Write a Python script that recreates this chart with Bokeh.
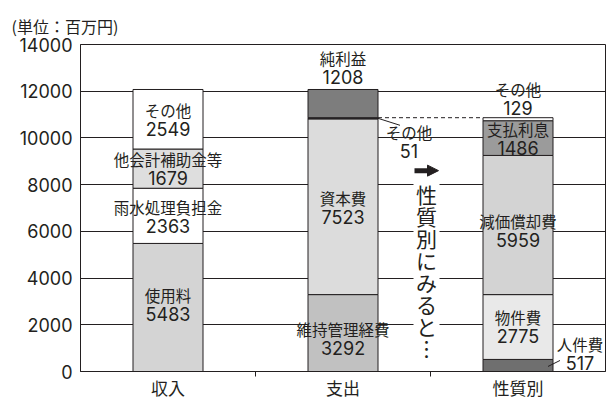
from bokeh.plotting import figure
from bokeh.models import ColumnDataSource, FixedTicker, Range1d, Arrow, NormalHead
from bokeh.core.properties import value
from bokeh.embed import file_html
from bokeh.resources import INLINE

# ---------------- data ----------------
categories = ["収入", "支出", "性質別"]
income_names = ["使用料", "雨水処理負担金", "他会計補助金等", "その他"]
income_values = [5483, 2363, 1679, 2549]
expense_names = ["維持管理経費", "資本費", "その他", "純利益"]
expense_values = [3292, 7523, 51, 1208]
nature_names = ["人件費", "物件費", "減価償却費", "支払利息", "その他"]
nature_values = [517, 2775, 5959, 1486, 129]
y_ticks = [0, 2000, 4000, 6000, 8000, 10000, 12000, 14000]
unit_label = "(単位：百万円)"
note_chars = ["性", "質", "別", "に", "み", "る", "と", "︙"]

# ---------------- styles / layout ----------------
income_colors = ["#d4d4d4", "#ffffff", "#dedede", "#ffffff"]
expense_colors = ["#c1c1c1", "#dcdcdc", "#333333", "#7d7d7d"]
nature_colors = ["#6f6f6f", "#e9e9e9", "#d3d3d3", "#9b9b9b", "#ffffff"]
income_off = [(0, -3), (0, 1), (0, 0), (0, 0)]
expense_off = [(0, 5), (0, 1), (66, 23), (0, -36)]
nature_off = [(62, -12), (0, -1), (0, 5), (0, 0), (0, -21)]

W, H = 608, 405
ML, MR, MT, MB = 80, 3, 44, 34
fw = W - ML - MR
fh = H - MT - MB
XMAX, YMAX = 3, 14000
px_x = XMAX / fw
px_y = YMAX / fh
BAR_W = 0.4
INK = "#231f20"
JP = "Noto Sans CJK JP"
NUM = "Inter"

groups = [
    (income_names, income_values, income_colors, income_off),
    (expense_names, expense_values, expense_colors, expense_off),
    (nature_names, nature_values, nature_colors, nature_off),
]

bars = dict(x=[], bottom=[], top=[], color=[])
labs = dict(x=[], y=[], dx=[], dy_name=[], dy_num=[], name=[], num=[])
for i, (names, vals, cols, offs) in enumerate(groups):
    xc = i + 0.5
    base = 0
    for n, v, c, (dx, dy) in zip(names, vals, cols, offs):
        bars["x"].append(xc)
        bars["bottom"].append(base)
        bars["top"].append(base + v)
        bars["color"].append(c)
        labs["x"].append(xc)
        labs["y"].append(base + v / 2)
        labs["dx"].append(dx)
        labs["dy_name"].append(dy - 9.5)
        labs["dy_num"].append(dy + 9.5)
        labs["name"].append(n)
        labs["num"].append(str(v))
        base += v

p = figure(width=W, height=H, output_backend="svg", toolbar_location=None,
           x_range=Range1d(0, XMAX), y_range=Range1d(0, YMAX),
           min_border_left=ML, min_border_right=MR, min_border_top=MT, min_border_bottom=MB)
p.background_fill_color = "white"
p.border_fill_color = "white"
p.outline_line_color = INK
p.outline_line_width = 1

p.title.text = unit_label
p.title.text_font = JP
p.title.text_font_size = "16px"
p.title.text_font_style = "normal"
p.title.text_color = INK
p.title.align = "left"
p.title.offset = -69
p.title.standoff = 14

p.xgrid.visible = False
p.ygrid.grid_line_color = INK
p.ygrid.grid_line_width = 1
p.ygrid.ticker = FixedTicker(ticks=y_ticks)

p.yaxis.ticker = FixedTicker(ticks=y_ticks)
p.yaxis.major_tick_in = 0
p.yaxis.major_tick_out = 0
p.yaxis.minor_tick_line_color = None
p.yaxis.major_label_standoff = 8
p.yaxis.major_label_text_font = NUM
p.yaxis.major_label_text_font_size = "18px"
p.yaxis.major_label_text_color = INK
p.yaxis.axis_line_color = INK

centers = [i + 0.5 for i in range(len(categories))]
p.xaxis.ticker = FixedTicker(ticks=centers, minor_ticks=[1, 2])
p.xaxis.major_label_overrides = {c: cat for c, cat in zip(centers, categories)}
p.xaxis.major_tick_in = 0
p.xaxis.major_tick_out = 0
p.xaxis.minor_tick_in = 0
p.xaxis.minor_tick_out = 5
p.xaxis.minor_tick_line_color = INK
p.xaxis.axis_line_color = INK
p.xaxis.major_label_standoff = -2
p.xaxis.major_label_text_font = JP
p.xaxis.major_label_text_font_size = "17px"
p.xaxis.major_label_text_color = INK

# white halo strip behind the vertical note
note_x = 2.0 - 4 * px_x
note_top = 7620
p.quad(left=[note_x - 13 * px_x], right=[note_x + 13 * px_x],
       top=[note_top + 12 * px_y], bottom=[note_top - 162 * px_y],
       fill_color="white", line_color=None)

src = ColumnDataSource(bars)
p.vbar(x="x", width=BAR_W, bottom="bottom", top="top", source=src,
       fill_color="color", line_color=INK, line_width=1)

# dashed link line
link_y = sum(nature_values)
p.line(x=[1.5 + BAR_W / 2, 2.5 - BAR_W / 2], y=[link_y, link_y],
       line_color=INK, line_width=1, line_dash="4 3")

# leader lines
y51 = sum(expense_values[:2]) + expense_values[2] / 2
p.line(x=[1.5 + BAR_W / 2, 1.5 + BAR_W / 2 + 22 * px_x], y=[y51, y51 - 7 * px_y],
       line_color=INK, line_width=1)
y517 = nature_values[0] / 2
p.line(x=[2.5 + BAR_W / 2 - 5 * px_x, 2.5 + BAR_W / 2 + 7 * px_x],
       y=[y517 - 1 * px_y, y517 + 5 * px_y], line_color=INK, line_width=1)

lsrc = ColumnDataSource(labs)
p.text(x="x", y="y", text="name", x_offset="dx", y_offset="dy_name", source=lsrc,
       text_font=value(JP), text_font_size="15.5px", text_color=INK,
       text_align="center", text_baseline="middle")
p.text(x="x", y="y", text="num", x_offset="dx", y_offset="dy_num", source=lsrc,
       text_font=value(NUM), text_font_size="18px", text_color=INK,
       text_align="center", text_baseline="middle")

# arrow and vertical note
p.add_layout(Arrow(end=NormalHead(size=11, fill_color=INK, line_color=INK),
                   x_start=2.0 - 16 * px_x, y_start=8600, x_end=2.0 + 8 * px_x, y_end=8600,
                   line_color=INK, line_width=5))
nsrc = ColumnDataSource(dict(x=[note_x] * len(note_chars), y=[note_top] * len(note_chars),
                             t=note_chars, dy=[22 * k for k in range(len(note_chars))]))
p.text(x="x", y="y", text="t", y_offset="dy", source=nsrc,
       text_font=value(JP), text_font_size="21px", text_color=INK,
       text_align="center", text_baseline="middle")

open("out.html", "w").write(file_html(p, INLINE))
